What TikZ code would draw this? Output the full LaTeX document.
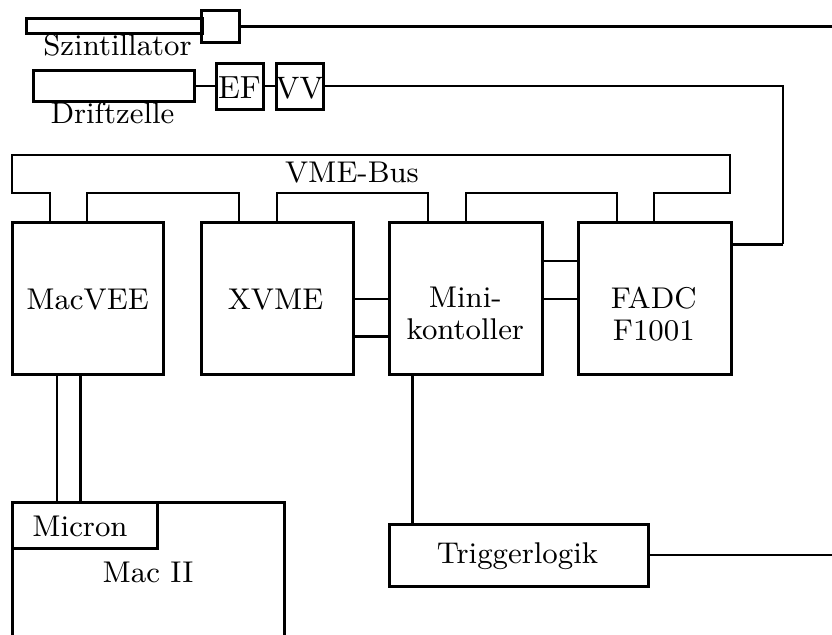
\documentclass[tikz,border=0pt]{standalone}
\usetikzlibrary{calc}

\begin{document}
\begin{tikzpicture}[x=0.3pt,y=-0.3pt,
    box/.style={draw,line width=0.9pt,inner sep=0pt},
    thin/.style={line width=0.6pt},
    thick/.style={line width=0.9pt},
    txt/.style={anchor=base,align=center,font=\fontsize{9}{9.6}\selectfont}]
    \useasboundingbox (0,0) rectangle (832,635);
    % detectors and front end
    \node[box,minimum width=176*0.3pt,minimum height=15*0.3pt] (szint) at (114,25.5) {};
    \node[box,minimum width=38*0.3pt,minimum height=32*0.3pt] (pm) at (220,26) {};
    \node[box,minimum width=161*0.3pt,minimum height=31*0.3pt] (drift) at (113.5,86) {};
    \node[box,minimum width=47*0.3pt,minimum height=46*0.3pt] (ef) at (239.5,86) {};
    \node[box,minimum width=47*0.3pt,minimum height=46*0.3pt] (vv) at (299.5,86) {};
    \node[txt] at (117.5,55) {Szintillator};
    \node[txt] at (112.5,123) {Driftzelle};
    \node[txt,font=\fontsize{9.6}{12}\selectfont] at (239.5,98) {EF};
    \node[txt,font=\fontsize{9.3}{12}\selectfont] at (299.5,98) {VV};
    % VME crate
    \node[box,minimum width=151*0.3pt,minimum height=152*0.3pt] (macvee) at (87.5,298) {};
    \node[box,minimum width=152*0.3pt,minimum height=152*0.3pt] (xvme) at (277,298) {};
    \node[box,minimum width=153*0.3pt,minimum height=152*0.3pt] (mini) at (465.5,298) {};
    \node[box,minimum width=153*0.3pt,minimum height=152*0.3pt] (fadc) at (654.5,298) {};
    \node[txt] at (87.5,309) {MacVEE};
    \node[txt] at (275.5,309) {XVME};
    \node[txt] at (465.3,339) {Mini-\\kontoller};
    \node[txt] at (653.8,340) {FADC\\F1001};
    % bus
    \draw[thin] (50,222) |- (12,193) -- (12,155) -| (730,193) -| (654,222);
    \foreach \a/\b in {87/239, 277/428, 466/617}
    \draw[thin] (\a,222) |- (\b,193) -- (\b,222);
    \node[txt] at (352,182) {VME-Bus};
    % Mac and trigger
    \draw[thick] (12,635) |- (284,502) -- (284,635);
    \node[box,minimum width=145*0.3pt,minimum height=46*0.3pt] (micron) at (84.5,525) {};
    \node[txt] at (80,536) {Micron};
    \node[txt] at (148,582) {Mac II};
    \node[box,minimum width=259*0.3pt,minimum height=62*0.3pt] (trig) at (518.5,555) {};
    \node[txt] at (517.5,563) {Triggerlogik};
    % connections
    \coordinate (szout) at (832,26);
    \coordinate (trout) at (832,555);
    \coordinate (turn) at (783,244);
    \draw[thick] (pm.east) -- (szout);
    \draw[thin] (drift.east) -- (ef.west);
    \draw[thin] (ef.east) -- (vv.west);
    \draw[thin] (vv.east) -| (turn);
    \draw[thick] (turn) -- (turn -| fadc.east);
    \draw[thin] ([yshift=-0.3pt]xvme.east) -- ([yshift=-0.3pt]mini.west);
    \draw[thick] ([yshift=-11.4pt]xvme.east) -- ([yshift=-11.4pt]mini.west);
    \draw[thin] ([yshift=11.1pt]mini.east) -- ([yshift=11.1pt]fadc.west);
    \draw[thin] ([yshift=-0.3pt]mini.east) -- ([yshift=-0.3pt]fadc.west);
    \draw[thin] ([xshift=-9.15pt]macvee.south) -- ([xshift=-9.15pt]macvee.south |- micron.north);
    \draw[thick] ([xshift=-2.25pt]macvee.south) -- ([xshift=-2.25pt]macvee.south |- micron.north);
    \draw[thick] ([xshift=-16.05pt]mini.south) -- ([xshift=-16.05pt]mini.south |- trig.north);
    \draw[thin] (trig.east) -- (trout);
\end{tikzpicture}
\end{document}
